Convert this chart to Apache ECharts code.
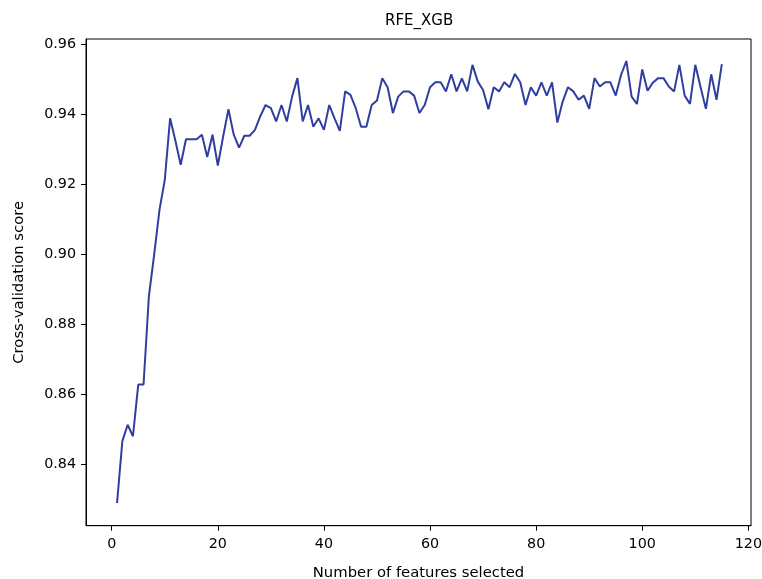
<!DOCTYPE html>
<html>
<head>
<meta charset="utf-8">
<script src="https://cdn.jsdelivr.net/npm/echarts@6/dist/echarts.min.js"></script>
<style>html,body{margin:0;padding:0;background:#fff;}#c{width:762px;height:579px;}</style>
</head>
<body>
<div id="c"></div>
<script>
const features = [1,2,3,4,5,6,7,8,9,10,11,12,13,14,15,16,17,18,19,20,21,22,23,24,25,26,27,28,29,30,
31,32,33,34,35,36,37,38,39,40,41,42,43,44,45,46,47,48,49,50,51,52,53,54,55,56,57,58,59,60,
61,62,63,64,65,66,67,68,69,70,71,72,73,74,75,76,77,78,79,80,81,82,83,84,85,86,87,88,89,90,
91,92,93,94,95,96,97,98,99,100,101,102,103,104,105,106,107,108,109,110,111,112,113,114,115];
const scores = [0.8288,0.8465,0.8512,0.8479,0.8627,0.8627,0.8879,0.8999,0.9127,0.9213,
0.9389,0.9325,0.9256,0.9329,0.9329,0.9329,0.9342,0.9278,0.9342,0.9254,
0.9337,0.9415,0.9342,0.9305,0.9339,0.9339,0.9356,0.9395,0.9427,0.9418,
0.9380,0.9427,0.9380,0.9451,0.9504,0.9380,0.9427,0.9365,0.9389,0.9356,
0.9427,0.9389,0.9353,0.9466,0.9456,0.9418,0.9365,0.9365,0.9427,0.9440,
0.9504,0.9478,0.9404,0.9451,0.9466,0.9466,0.9454,0.9404,0.9427,0.9478,
0.9492,0.9492,0.9466,0.9515,0.9466,0.9503,0.9466,0.9542,0.9494,0.9470,
0.9415,0.9478,0.9466,0.9492,0.9478,0.9516,0.9492,0.9427,0.9478,0.9454,
0.9492,0.9454,0.9492,0.9377,0.9437,0.9478,0.9466,0.9442,0.9454,0.9416,
0.9504,0.9480,0.9492,0.9492,0.9454,0.9513,0.9553,0.9451,0.9430,0.9529,
0.9468,0.9491,0.9504,0.9504,0.9480,0.9466,0.9542,0.9454,0.9430,0.9542,
0.9478,0.9416,0.9515,0.9442,0.9544];
const xTicks = [0,20,40,60,80,100,120];
const yTicks = [0.84,0.86,0.88,0.90,0.92,0.94,0.96];
const titleText = 'RFE_XGB';
const xName = 'Number of features selected';
const yName = 'Cross-validation score';

const FONT = 'DejaVu Sans';
const chart = echarts.init(document.getElementById('c'), null, {renderer:'canvas'});
const axisCommon = {
  axisLine:{show:true,onZero:false,lineStyle:{color:'#000',width:1}},
  axisTick:{show:true,length:5,lineStyle:{color:'#000',width:1}},
  splitLine:{show:false},
  nameLocation:'middle',
  nameTextStyle:{fontFamily:FONT,fontSize:14.8,color:'#000'}
};
chart.setOption({
  animation:false,
  backgroundColor:'#fff',
  title:{text:titleText,left:380,top:9,textStyle:{fontFamily:FONT,fontSize:15,fontWeight:'normal',color:'#000'}},
  grid:{left:86,right:11,top:39,bottom:53.3,show:true,borderColor:'#000',borderWidth:1,backgroundColor:'transparent',containLabel:false,outerBoundsMode:'none'},
  xAxis:Object.assign({},axisCommon,{
    type:'value',min:-4.85,max:120.5,
    name:xName,nameGap:40,
    axisTick:Object.assign({},axisCommon.axisTick,{customValues:xTicks}),
    axisLabel:{customValues:xTicks,margin:12,fontFamily:FONT,fontSize:14.3,color:'#000',formatter:v=>String(Math.round(v))}
  }),
  yAxis:Object.assign({},axisCommon,{
    type:'value',min:0.8223,max:0.9616,
    name:yName,nameGap:59,
    axisTick:Object.assign({},axisCommon.axisTick,{customValues:yTicks}),
    axisLabel:{customValues:yTicks,margin:10,fontFamily:FONT,fontSize:14.3,color:'#000',formatter:v=>v.toFixed(2)}
  }),
  series:[{
    type:'line',
    data:features.map((f,i)=>[f,scores[i]]),
    showSymbol:false,
    smooth:false,
    lineStyle:{color:'#303F9F',width:2},
    itemStyle:{color:'#303F9F'}
  }]
});
</script>
</body>
</html>
